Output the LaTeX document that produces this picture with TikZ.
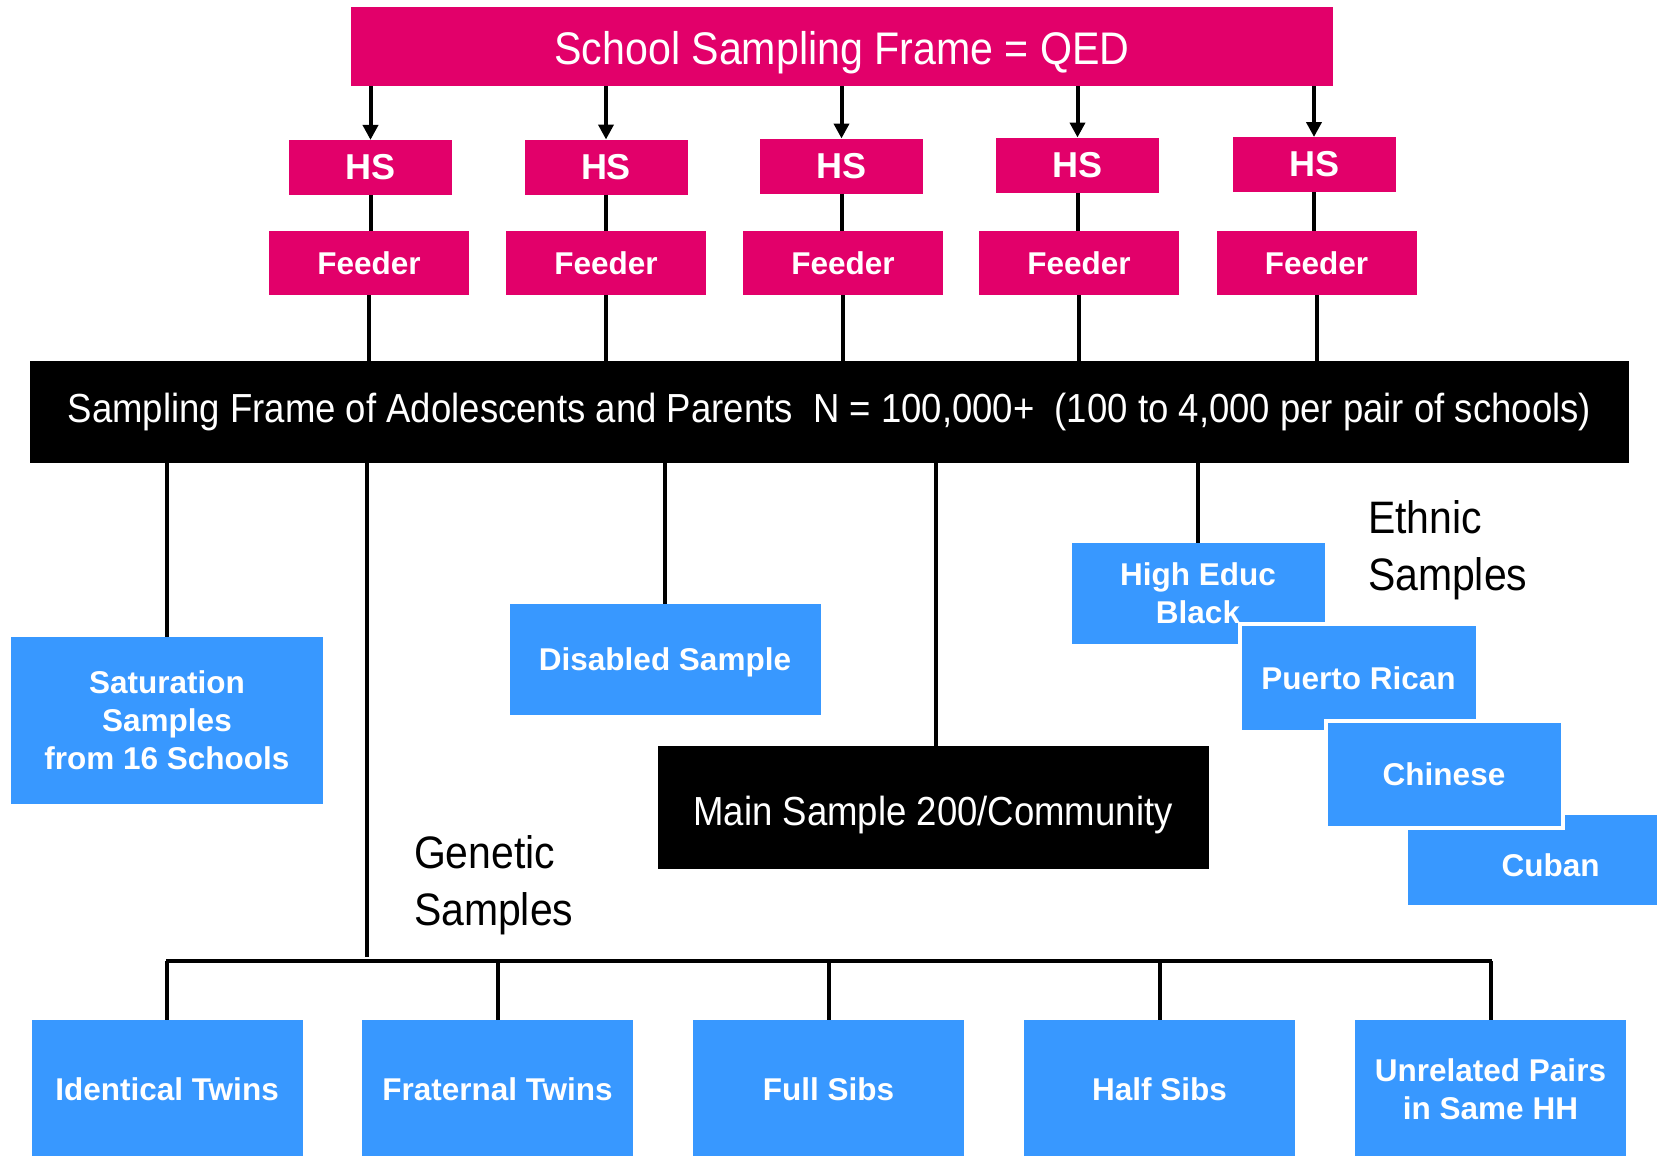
\documentclass[tikz,border=0pt]{standalone}
\usepackage{fontspec}
\setmainfont{Liberation Sans}
\newfontfamily\condfont[FakeStretch=0.9]{Liberation Sans}
\usetikzlibrary{arrows.meta}
\definecolor{pinkc}{RGB}{226,0,106}
\definecolor{bluec}{RGB}{56,152,255}
\begin{document}
\begin{tikzpicture}[x=1pt,y=-1pt,
  conn/.style={line width=4pt, draw=black},
  arr/.style={conn, -{Triangle[length=15pt,width=15pt]}},
  pinkrect/.style={fill=pinkc, text=white, inner sep=0pt, outer sep=0pt, font=\bfseries\fontsize{31.5}{38}\selectfont},
  hsrect/.style={pinkrect, minimum width=163pt, minimum height=55pt, font=\bfseries\fontsize{36}{40}\selectfont},
  feedrect/.style={pinkrect, minimum width=200pt, minimum height=64pt},
  blackrect/.style={fill=black, text=white, inner sep=0pt, outer sep=0pt, font=\condfont\fontsize{40.6}{46}\selectfont},
  bluerect/.style={fill=bluec, text=white, inner sep=0pt, outer sep=0pt, align=center, font=\bfseries\fontsize{31.5}{38}\selectfont},
  oneline/.style={text height=22.6pt, text depth=0pt},
  ethrect/.style={bluerect, preaction={draw=white, line width=8pt}},
  bigtext/.style={inner sep=0pt, outer sep=0pt, align=left, anchor=base west, font=\condfont\fontsize{45.5}{57}\selectfont}
]
\useasboundingbox (0,0) rectangle (1657,1156);
\clip (0,0) rectangle (1657,1156);

% top
\node[pinkrect, minimum width=982pt, minimum height=79pt, text height=37pt, text depth=0pt, font=\condfont\fontsize{45.7}{50}\selectfont] (top) at (842,46.5) {School Sampling Frame = QED};

% HS
\node[hsrect] (hs1) at (370.5,167.4) {HS};
\node[hsrect] (hs2) at (606,167) {HS};
\node[hsrect] (hs3) at (841.5,166) {HS};
\node[hsrect] (hs4) at (1077.5,165) {HS};
\node[hsrect] (hs5) at (1314,164.5) {HS};

% Feeder
\node[feedrect] (f1) at (369,263) {Feeder};
\node[feedrect] (f2) at (606,263) {Feeder};
\node[feedrect] (f3) at (843,263) {Feeder};
\node[feedrect] (f4) at (1079,263) {Feeder};
\node[feedrect] (f5) at (1316.5,263) {Feeder};

% frame
\node[blackrect, minimum width=1599pt, minimum height=102pt, text height=20pt, text depth=0pt] (frame) at (829.5,412) {Sampling Frame of Adolescents and Parents\ \ N = 100,000+\ \ (100 to 4,000 per pair of schools)};

\foreach \i in {1,...,5}{
  \draw[arr] (top.south -| hs\i.north) -- (hs\i.north);
  \draw[conn] (hs\i.south) -- (hs\i.south |- f\i.north);
  \draw[conn] (f\i.south) -- (f\i.south |- frame.north);
}

% middle boxes
\node[bluerect, minimum width=312pt, minimum height=167pt] (sat) at (167,720) {Saturation\\Samples\\from 16 Schools};
\node[bluerect, oneline, minimum width=311pt, minimum height=111pt] (dis) at (665,659.5) {Disabled Sample};
\node[blackrect, minimum width=551pt, minimum height=123pt, text height=36pt, text depth=0pt] (main) at (933,807) {Main Sample 200/Community};

% ethnic
\node[ethrect, minimum width=253pt, minimum height=101pt] (heb) at (1198,593.5) {High Educ\\Black};
\node[ethrect, oneline, minimum width=234pt, minimum height=104pt] (pr) at (1358.5,678) {Puerto Rican};
\node[ethrect, minimum width=286pt, minimum height=90pt, text height=33.6pt, text depth=0pt] (cub) at (1550.5,860) {Cuban};
\node[ethrect, oneline, minimum width=233pt, minimum height=103pt] (chi) at (1444,774) {Chinese};

\node[bigtext] (eth) at (1368,590) {Ethnic\\Samples};
\node[bigtext] (gen) at (414,925) {Genetic\\Samples};

\coordinate (gtop) at (367,957);
\coordinate (gL) at (168,961);
\coordinate (gR) at (1490,961);

\draw[conn] (frame.south -| sat.north) -- (sat.north);
\draw[conn] (frame.south -| gtop) -- (gtop);
\draw[conn] (frame.south -| dis.north) -- (dis.north);
\draw[conn] (frame.south -| 936,0) -- (main.north -| 936,0);
\draw[conn] (frame.south -| heb.north) -- (heb.north);

% genetic boxes
\node[bluerect, oneline, minimum width=271pt, minimum height=138pt] (b1) at (167,1089) {Identical Twins};
\node[bluerect, oneline, minimum width=271pt, minimum height=138pt] (b2) at (497.5,1089) {Fraternal Twins};
\node[bluerect, oneline, minimum width=271pt, minimum height=138pt] (b3) at (828.5,1089) {Full Sibs};
\node[bluerect, oneline, minimum width=271pt, minimum height=138pt] (b4) at (1159.5,1089) {Half Sibs};
\node[bluerect, minimum width=271pt, minimum height=138pt] (b5) at (1490.5,1089) {Unrelated Pairs\\in Same HH};

\draw[conn, line cap=rect] (gL) -- (gR);
\foreach \i in {1,...,5}{
  \draw[conn] (b\i.north |- gL) -- (b\i.north);
}
\end{tikzpicture}
\end{document}
